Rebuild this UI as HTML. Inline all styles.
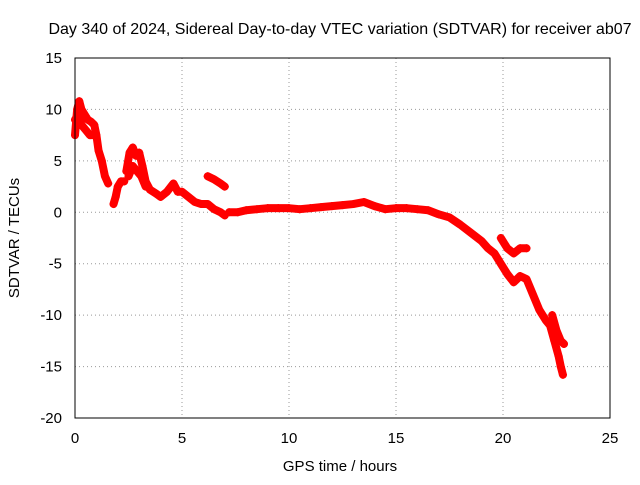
<!DOCTYPE html>
<html><head><meta charset="utf-8"><style>
body{margin:0;background:#fff;}
svg text{font-family:"Liberation Sans",sans-serif;font-size:15px;fill:#000;}
</style></head><body>
<svg width="640" height="480">
<g id="grid"></g><g id="ticks"></g><g id="series"></g>
<rect x="75" y="58" width="535" height="360" fill="none" stroke="#000" stroke-width="1"/>
<text x="340" y="34" text-anchor="middle" style="font-size:16px">Day 340 of 2024, Sidereal Day-to-day VTEC variation (SDTVAR) for receiver ab07</text>
<text x="340" y="471" text-anchor="middle">GPS time / hours</text>
<text transform="translate(19,238) rotate(-90)" text-anchor="middle">SDTVAR / TECUs</text>
</svg>
<script>
const xTicks=[0,5,10,15,20,25];
const yTicks=[-20,-15,-10,-5,0,5,10,15];
// segments: hours and TECU values (null breaks)
const hours=[0,0.1,0.2,0.3,0.45,0.6,0.75,0.9,1.0,1.1,1.25,1.4,1.55,null,
0,0.15,0.3,0.5,0.7,0.9,null,
1.8,1.9,2.0,2.15,2.3,null,
2.4,2.55,2.7,2.85,3.0,3.15,3.3,3.5,3.8,4.0,4.3,4.6,4.8,5.0,5.3,5.6,5.9,6.2,6.5,6.8,7.0,null,
2.5,2.7,2.9,3.1,3.3,null,
6.2,6.5,6.8,7.0,null,
7.2,7.6,8.0,8.5,9,9.5,10,10.5,11,11.5,12,12.5,13,13.5,14,14.5,15,15.5,16,16.5,17,17.5,18,18.5,19,19.3,19.6,19.9,20.2,20.5,20.8,21.1,21.4,21.7,22.0,22.2,22.4,22.6,22.7,22.8,null,
19.9,20.2,20.5,20.8,21.1,null,
22.3,22.5,22.7,22.85];
const values=[7.5,10,10.8,10,9.5,9,8.8,8.5,7.5,6,5,3.5,2.8,null,
9,9.5,8.5,8,7.5,7.5,null,
0.8,1.5,2.5,3,3,null,
4,5.8,6.3,5.5,5.8,4.5,3,2.2,1.8,1.5,2,2.8,2,2,1.5,1,0.8,0.8,0.3,0,-0.3,null,
3.5,4.5,4,3.5,2.5,null,
3.5,3.2,2.8,2.5,null,
0,0,0.2,0.3,0.4,0.4,0.4,0.3,0.4,0.5,0.6,0.7,0.8,1.0,0.6,0.3,0.4,0.4,0.3,0.2,-0.2,-0.5,-1.2,-2,-2.8,-3.5,-4,-5,-6,-6.8,-6.2,-6.5,-8,-9.5,-10.5,-11,-12.5,-14,-15,-15.8,null,
-2.5,-3.5,-4,-3.5,-3.5,null,
-10,-11.5,-12.5,-12.8];
const X=v=>75+(v-0)*535/25, Y=v=>418-(v+20)*360/35;
const NS="http://www.w3.org/2000/svg";
const g=document.getElementById('grid'),t=document.getElementById('ticks'),s=document.getElementById('series');
function mk(tag,a,p){const e=document.createElementNS(NS,tag);for(const k in a)e.setAttribute(k,a[k]);p.appendChild(e);return e;}
xTicks.forEach(v=>{const x=X(v);
 if(v>0&&v<25){const l=mk('line',{x1:x,x2:x,y1:58,y2:418,stroke:'#999','stroke-dasharray':'1,3'},g);
 
 }
 const tx=mk('text',{x:x,y:443,'text-anchor':'middle'},t);tx.textContent=v;
 
 });
yTicks.forEach(v=>{const y=Y(v);
 if(v>-20&&v<15){const l=mk('line',{x1:75,x2:610,y1:y,y2:y,stroke:'#999','stroke-dasharray':'1,3'},g);
 
 }
 const tx=mk('text',{x:62,y:y+5,'text-anchor':'end'},t);tx.textContent=v;
 
 });
let seg=[];
function flush(){if(seg.length>1){const p=mk('polyline',{points:seg.map(q=>q.join(',')).join(' '),fill:'none',stroke:'#f00','stroke-width':8,'stroke-linejoin':'round','stroke-linecap':'round'},s);
 
 }seg=[];}
for(let i=0;i<hours.length;i++){
 if(hours[i]===null){flush();continue;}
 const x=X(hours[i]),y=Y(values[i]);seg.push([x,y]);
 const m=mk('path',{d:`M${x-4},${y}h8M${x},${y-4}v8`,stroke:'#f00','stroke-width':1.5},s);
 
 
}
flush();
</script>
</body></html>
